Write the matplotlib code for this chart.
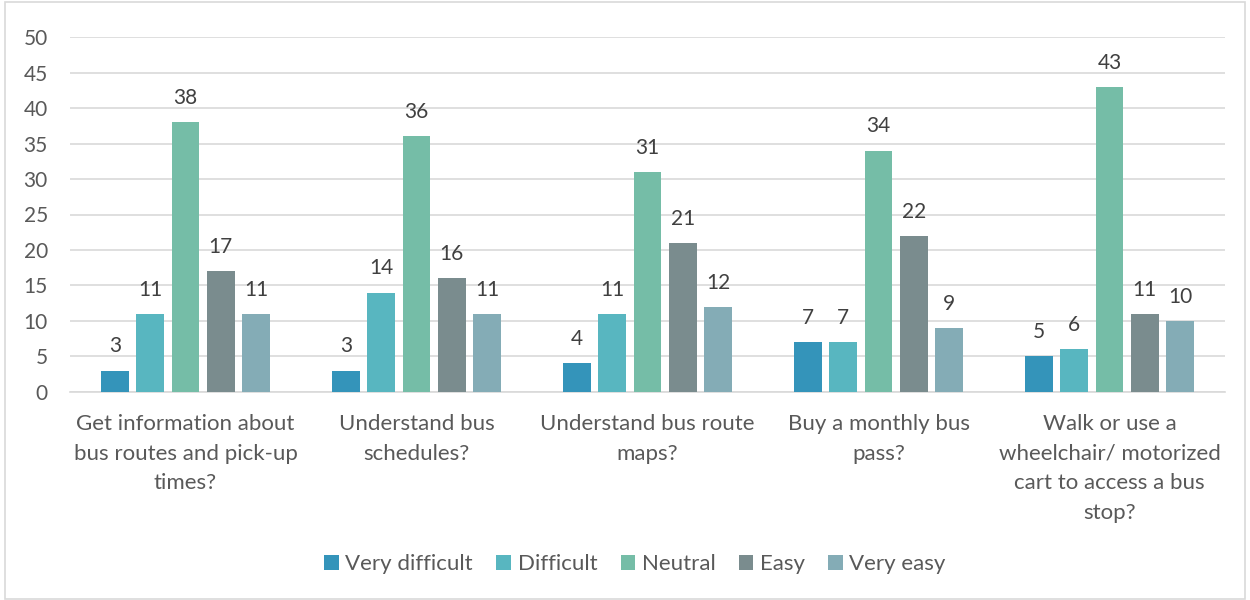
import matplotlib
matplotlib.use("Agg")
import matplotlib.pyplot as plt
from matplotlib.patches import Rectangle
import numpy as np

categories = [
    "Get information about\nbus routes and pick-up\ntimes?",
    "Understand bus\nschedules?",
    "Understand bus route\nmaps?",
    "Buy a monthly bus\npass?",
    "Walk or use a\nwheelchair/ motorized\ncart to access a bus\nstop?",
]
series_names = ["Very difficult", "Difficult", "Neutral", "Easy", "Very easy"]
very_difficult = [3, 3, 4, 7, 5]
difficult = [11, 14, 11, 7, 6]
neutral = [38, 36, 31, 34, 43]
easy = [17, 16, 21, 22, 11]
very_easy = [11, 11, 12, 9, 10]
series_values = [very_difficult, difficult, neutral, easy, very_easy]
colors = ["#3494BA", "#58B6C0", "#75BDA7", "#7A8C8E", "#84ACB6"]

plt.rcParams["font.family"] = ["Lato", "DejaVu Sans"]
text_color = "#595959"

fig = plt.figure(figsize=(12.5, 6), dpi=100)
ax = fig.add_axes([0.056, 0.347, 0.924, 0.591])

x = np.arange(len(categories))
step = 0.153
width = 0.12
for i, (name, vals, col) in enumerate(zip(series_names, series_values, colors)):
    pos = x + (i - 2) * step
    bars = ax.bar(pos, vals, width=width, color=col, label=name, zorder=3)
    for b, v in zip(bars, vals):
        ax.text(b.get_x() + b.get_width() / 2, v + 2.0, str(v),
                ha="center", va="bottom", fontsize=15, color="#404040")

ax.set_ylim(0, 50)
ax.set_xlim(-0.5, len(categories) - 0.5)
ax.set_yticks(range(0, 51, 5))
ax.yaxis.grid(True, color="#D9D9D9", linewidth=1.2, zorder=0)
ax.set_axisbelow(True)
for s in ["top", "right", "left"]:
    ax.spines[s].set_visible(False)
ax.spines["bottom"].set_color("#D9D9D9")
ax.spines["bottom"].set_linewidth(1.2)
ax.tick_params(axis="y", length=0, labelsize=15, labelcolor=text_color, pad=16)
ax.tick_params(axis="x", length=0, labelsize=16, labelcolor=text_color, pad=16)
ax.set_xticks(x)
ax.set_xticklabels(categories, linespacing=1.6)

leg = fig.legend(loc="center", bbox_to_anchor=(0.508, 0.06), ncol=5, frameon=False,
                 fontsize=16, handlelength=0.65, handleheight=0.65, handletextpad=0.3,
                 columnspacing=1.05)
for t in leg.get_texts():
    t.set_color(text_color)

fig.patches.append(Rectangle((0.004, 0.002), 0.992, 0.994, transform=fig.transFigure,
                             fill=False, edgecolor="#D9D9D9", linewidth=1.2))

fig.savefig("out.png", dpi=100)
